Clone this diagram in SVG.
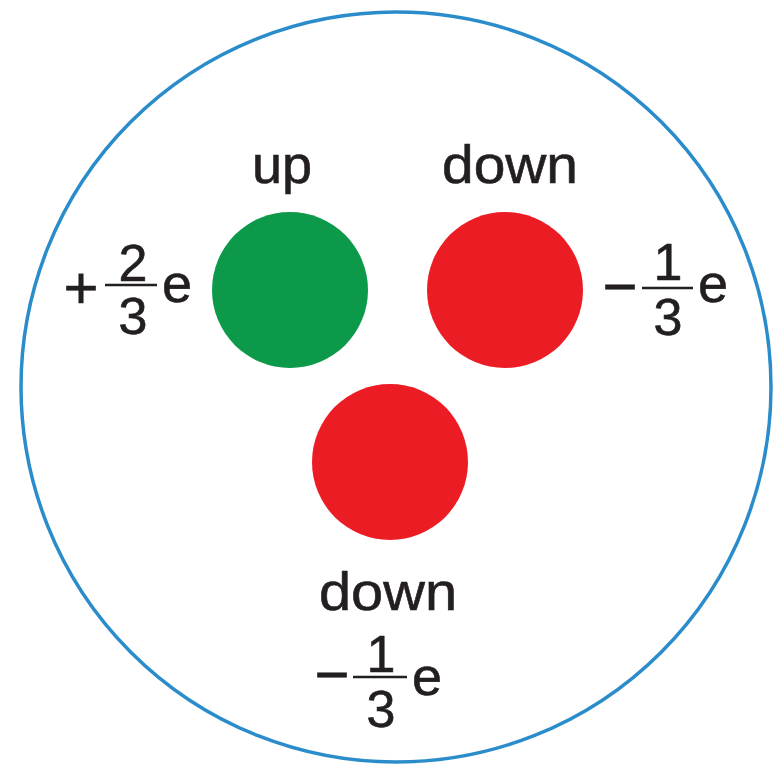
<svg xmlns="http://www.w3.org/2000/svg" width="776" height="766" viewBox="0 0 776 766">
<style>
.t{font-family:"Liberation Sans",Arial,sans-serif;fill:#231f20;stroke:#231f20;stroke-width:0.6;}
.lbl{font-size:54px;text-anchor:middle;}
.dig{font-size:52px;text-anchor:middle;}
.e{font-size:54px;}
.sg{font-size:60px;text-anchor:middle;}
.fr{stroke:#231f20;stroke-width:2.5;}
</style>
<rect width="776" height="766" fill="#fff"/>
<g id="proton"><circle cx="396" cy="387" r="375" fill="none" stroke="#2a8cca" stroke-width="3.5"/></g>
<g id="up-quark">
<circle cx="290" cy="290" r="78" fill="#0c9a4a"/>
<text class="t lbl" x="282" y="183">up</text>
<text class="t sg" x="81" y="308">+</text>
<line class="fr" x1="105" y1="285" x2="157" y2="285"/>
<text class="t dig" x="133" y="281">2</text>
<text class="t dig" x="133" y="334">3</text>
<text class="t e" x="162" y="302">e</text>
</g>
<g id="down-quark-1">
<circle cx="505" cy="290" r="78" fill="#ec1c24"/>
<text class="t lbl" x="510" y="183" textLength="136" lengthAdjust="spacingAndGlyphs">down</text>
<text class="t sg" x="620" y="307">−</text>
<line class="fr" x1="642" y1="288" x2="693" y2="288"/>
<text class="t dig" x="668" y="280">1</text>
<text class="t dig" x="668" y="335">3</text>
<text class="t e" x="698" y="302">e</text>
</g>
<g id="down-quark-2">
<circle cx="390" cy="462" r="78" fill="#ec1c24"/>
<text class="t lbl" x="388" y="610" textLength="138" lengthAdjust="spacingAndGlyphs">down</text>
<text class="t sg" x="332" y="695">−</text>
<line class="fr" x1="353" y1="677" x2="407" y2="677"/>
<text class="t dig" x="381" y="672">1</text>
<text class="t dig" x="381" y="727">3</text>
<text class="t e" x="412" y="695">e</text>
</g>
</svg>
